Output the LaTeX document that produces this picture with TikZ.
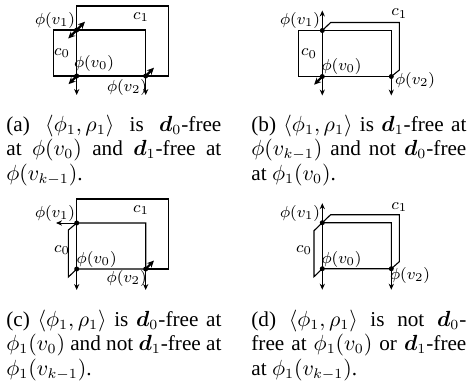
\documentclass[tikz,border=0pt]{standalone}
\usepackage{amsmath,bm}
\usepackage{fontspec}
\setmainfont{Liberation Serif}
\usetikzlibrary{arrows.meta}
\newcommand\fullline[1]{\makebox[107.5pt][s]{#1}}
\begin{document}
\begin{tikzpicture}[x=0.5pt,y=-0.5pt,
  edge/.style={line width=0.55pt},
  arr/.style={line width=0.5pt,-{Stealth[length=3pt,width=2.6pt]}},
  darr/.style={line width=1.1pt,{Stealth[length=3.5pt,width=3.2pt]}-{Stealth[length=3.5pt,width=3.2pt]}},
  sarr/.style={line width=1.1pt,-{Stealth[length=3.5pt,width=3.2pt]}},
  dot/.style={circle,fill,inner sep=0pt,minimum size=2.5pt},
  lab/.style={font=\fontsize{8}{9.5}\selectfont,inner sep=0pt},
  capt/.style={anchor=base west,inner sep=0pt,font=\fontsize{10.6}{12.5}\selectfont}]
\useasboundingbox (0,0) rectangle (471,382);

% ---------------- panel (a)
\begin{scope}
\coordinate (a-v1) at (76.7,30);
\coordinate (a-v0) at (76.7,76);
\coordinate (a-v2) at (145.7,76);
\coordinate (a-c0tl) at (53.3,30);
\coordinate (a-c0tr) at (145.7,30);
\coordinate (a-c0bl) at (53.3,76);
\coordinate (a-c1tl) at (76.7,6);
\coordinate (a-c1tr) at (168.3,6);
\coordinate (a-c1br) at (168.3,76);
\coordinate (a-d1) at (68.2,38.5);
\coordinate (a-u1) at (85,21.7);
\coordinate (a-down0) at (76.7,95);
\coordinate (a-down2) at (145.7,95);
\coordinate (a-dl0) at (68.5,84.2);
\coordinate (a-ur2) at (154,67.7);
\draw[edge] (a-c0bl) -- (a-c0tl) -- (a-c0tr) -- (a-v2) -- (a-v0) -- cycle;
\draw[edge] (a-v0) -- (a-c1tl) -- (a-c1tr) -- (a-c1br) -- (a-v2);
\draw[darr] (a-d1) -- (a-u1);
\draw[arr] (a-v0) -- (a-down0);
\draw[arr] (a-v2) -- (a-down2);
\draw[sarr] (a-v0) -- (a-dl0);
\draw[sarr] (a-v2) -- (a-ur2);
\node[dot] (a-p1) at (a-v1) {};
\node[dot] (a-p0) at (a-v0) {};
\node[dot] (a-p2) at (a-v2) {};
\node[lab] (a-l1) at (55,20) {$\phi(v_1)$};
\node[lab] (a-lc1) at (141,17) {$c_1$};
\node[lab] (a-lc0) at (62,53) {$c_0$};
\node[lab] (a-l0) at (94,63) {$\phi(v_0)$};
\node[lab] (a-l2) at (127,87) {$\phi(v_2)$};
\end{scope}

% ---------------- panel (b)
\begin{scope}[shift={(245.6,0.5)}]
\coordinate (b-v1) at (76.7,30);
\coordinate (b-v0) at (76.7,76);
\coordinate (b-v2) at (145.7,76);
\coordinate (b-c0tl) at (53.3,30);
\coordinate (b-c0tr) at (145.7,30);
\coordinate (b-c0bl) at (53.3,76);
\coordinate (b-c1a) at (85,22);
\coordinate (b-c1b) at (153.7,22);
\coordinate (b-c1c) at (153.7,69.5);
\coordinate (b-up) at (76.7,10);
\coordinate (b-down0) at (76.7,95);
\coordinate (b-down2) at (145.7,95);
\coordinate (b-dl0) at (68.5,84.2);
\draw[edge] (b-c0bl) -- (b-c0tl) -- (b-c0tr) -- (b-v2) -- (b-v0) -- cycle;
\draw[edge] (b-v1) -- (b-c1a) -- (b-c1b) -- (b-c1c) -- (b-v2);
\draw[edge] (b-v1) -- (b-v0);
\draw[arr] (b-v1) -- (b-up);
\draw[arr] (b-v0) -- (b-down0);
\draw[arr] (b-v2) -- (b-down2);
\draw[sarr] (b-v0) -- (b-dl0);
\node[dot] (b-p1) at (b-v1) {};
\node[dot] (b-p0) at (b-v0) {};
\node[dot] (b-p2) at (b-v2) {};
\node[lab] (b-l1) at (54.4,20.2) {$\phi(v_1)$};
\node[lab] (b-lc1) at (153.7,13) {$c_1$};
\node[lab] (b-lc0) at (63.4,53) {$c_0$};
\node[lab] (b-l0) at (96,65.5) {$\phi(v_0)$};
\node[lab] (b-l2) at (169.4,79.5) {$\phi(v_2)$};
\end{scope}

% ---------------- panel (c)
\begin{scope}[shift={(0,193)}]
\coordinate (c-v1) at (76.7,30);
\coordinate (c-v0) at (76.7,76);
\coordinate (c-v2) at (145.7,76);
\coordinate (c-c0tr) at (145.7,30);
\coordinate (c-pa) at (68.4,37);
\coordinate (c-pb) at (68.4,84);
\coordinate (c-c1tl) at (76.7,6);
\coordinate (c-c1tr) at (168.3,6);
\coordinate (c-c1br) at (168.3,76);
\coordinate (c-left) at (56,30);
\coordinate (c-down0) at (76.7,97);
\coordinate (c-down2) at (145.7,97);
\coordinate (c-ur2) at (154,67.5);
\draw[edge] (c-v1) -- (c-c0tr) -- (c-v2) -- (c-v0) -- (c-pb) -- (c-pa) -- cycle;
\draw[edge] (c-v0) -- (c-c1tl) -- (c-c1tr) -- (c-c1br) -- (c-v2);
\draw[arr] (c-v1) -- (c-left);
\draw[arr] (c-v0) -- (c-down0);
\draw[arr] (c-v2) -- (c-down2);
\draw[sarr] (c-v2) -- (c-ur2);
\node[dot] (c-p1) at (c-v1) {};
\node[dot] (c-p0) at (c-v0) {};
\node[dot] (c-p2) at (c-v2) {};
\node[lab] (c-l1) at (55,20.3) {$\phi(v_1)$};
\node[lab] (c-lc1) at (141,17) {$c_1$};
\node[lab] (c-lc0) at (62,57) {$c_0$};
\node[lab] (c-l0) at (96.7,66) {$\phi(v_0)$};
\node[lab] (c-l2) at (126.7,85.3) {$\phi(v_2)$};
\end{scope}

% ---------------- panel (d)
\begin{scope}[shift={(245.6,192.7)}]
\coordinate (d-v1) at (76.7,30);
\coordinate (d-v0) at (76.7,76);
\coordinate (d-v2) at (145.7,76);
\coordinate (d-c0tr) at (145.7,30);
\coordinate (d-pa) at (68.4,38);
\coordinate (d-pb) at (68.4,84);
\coordinate (d-c1a) at (85,22);
\coordinate (d-c1b) at (153.7,22);
\coordinate (d-c1c) at (153.7,69);
\coordinate (d-up) at (76.7,10.5);
\coordinate (d-down0) at (76.7,97);
\coordinate (d-down2) at (145.7,97);
\draw[edge] (d-v1) -- (d-c0tr) -- (d-v2) -- (d-v0) -- (d-pb) -- (d-pa) -- cycle;
\draw[edge] (d-v1) -- (d-c1a) -- (d-c1b) -- (d-c1c) -- (d-v2);
\draw[edge] (d-v1) -- (d-v0);
\draw[arr] (d-v1) -- (d-up);
\draw[arr] (d-v0) -- (d-down0);
\draw[arr] (d-v2) -- (d-down2);
\node[dot] (d-p1) at (d-v1) {};
\node[dot] (d-p0) at (d-v0) {};
\node[dot] (d-p2) at (d-v2) {};
\node[lab] (d-l1) at (54.4,20.6) {$\phi(v_1)$};
\node[lab] (d-lc1) at (153.7,14) {$c_1$};
\node[lab] (d-lc0) at (58.4,57.3) {$c_0$};
\node[lab] (d-l0) at (96,66.3) {$\phi(v_0)$};
\node[lab] (d-l2) at (164.4,82.3) {$\phi(v_2)$};
\end{scope}

% ---------------- captions
\node[capt] (ca1) at (6,131) {\fullline{(a) $\langle\phi_1,\rho_1\rangle$ is $\bm{d}_0$-free}};
\node[capt] (ca2) at (6,155.5) {\fullline{at $\phi(v_0)$ and $\bm{d}_1$-free at}};
\node[capt] (ca3) at (6,180) {$\phi(v_{k-1})$.};
\node[capt] (cb1) at (251,131) {\fullline{(b) $\langle\phi_1,\rho_1\rangle$ is $\bm{d}_1$-free at}};
\node[capt] (cb2) at (251,155.5) {\fullline{$\phi(v_{k-1})$ and not $\bm{d}_0$-free}};
\node[capt] (cb3) at (251,180) {at $\phi_1(v_0)$.};
\node[capt] (cc1) at (6,326) {\fullline{(c) $\langle\phi_1,\rho_1\rangle$ is $\bm{d}_0$-free at}};
\node[capt] (cc2) at (6,350.5) {\fullline{$\phi_1(v_0)$ and not $\bm{d}_1$-free at}};
\node[capt] (cc3) at (6,375) {$\phi_1(v_{k-1})$.};
\node[capt] (cd1) at (251,326) {\fullline{(d) $\langle\phi_1,\rho_1\rangle$ is not $\bm{d}_0$-}};
\node[capt] (cd2) at (251,350.5) {\fullline{free at $\phi_1(v_0)$ or $\bm{d}_1$-free}};
\node[capt] (cd3) at (251,375) {at $\phi_1(v_{k-1})$.};
\end{tikzpicture}
\end{document}
